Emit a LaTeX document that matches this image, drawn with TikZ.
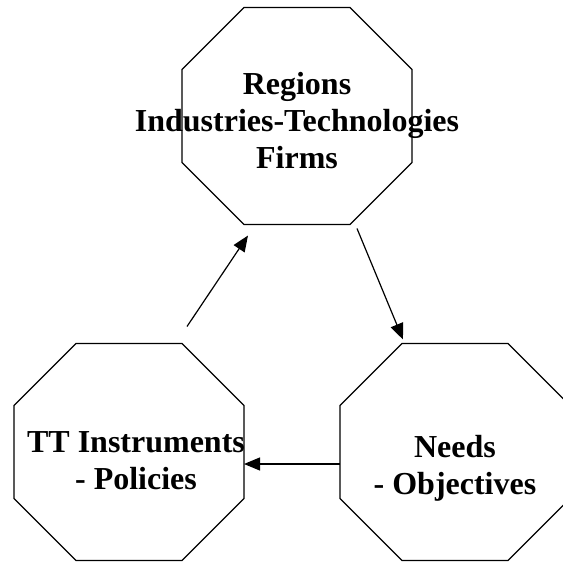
\documentclass[tikz,border=0pt]{standalone}
\usepackage{fontspec}
\setmainfont{Liberation Serif}
\usetikzlibrary{arrows.meta}

% octagon drawn round the frame of a node, corners cut by #1
\newcommand{\octagon}[2][62pt]{%
  \draw[octline] ([xshift=#1]#2.north west) -- ([xshift=-#1]#2.north east)
    -- ([yshift=-#1]#2.north east) -- ([yshift=#1]#2.south east)
    -- ([xshift=-#1]#2.south east) -- ([xshift=#1]#2.south west)
    -- ([yshift=#1]#2.south west) -- ([yshift=-#1]#2.north west) -- cycle;}

\begin{document}
\begin{tikzpicture}[x=1pt, y=-1pt,
    frame/.style = {rectangle, inner sep=0pt, outer sep=0pt, minimum width=230pt, minimum height=217pt},
    octline/.style = {line width=1.3pt, line join=miter},
    txt/.style = {align=center, inner sep=0pt, font=\fontsize{32}{37}\selectfont\bfseries},
    flow/.style = {-{Triangle[length=16pt,width=13pt]}, line width=1.2pt}]
  \useasboundingbox (0,0) rectangle (563,563);

  \node[frame] (reg) at (297,116) {};
  \node[frame] (tool) at (129,452) {};
  \node[frame] (need) at (455,452) {};
  \octagon{reg}
  \octagon{tool}
  \octagon{need}

  \node[txt] (reg_t) at (297,121) {Regions\\Industries-Technologies\\Firms};
  \node[txt] (tool_t) at (136,461) {TT Instruments\\- Policies};
  \node[txt] (need_t) at (455,468) {Needs\\- Objectives};

  \draw[flow] ([xshift=58pt,yshift=17pt]tool.north) -- ([xshift=-49pt,yshift=-11pt]reg.south);
  \draw[flow] ([xshift=60pt,yshift=-4pt]reg.south) -- ([xshift=-52pt,yshift=4pt]need.north);
  \draw[flow] ([yshift=-12pt]need.west) -- ([yshift=-12pt]tool.east);
\end{tikzpicture}
\end{document}
